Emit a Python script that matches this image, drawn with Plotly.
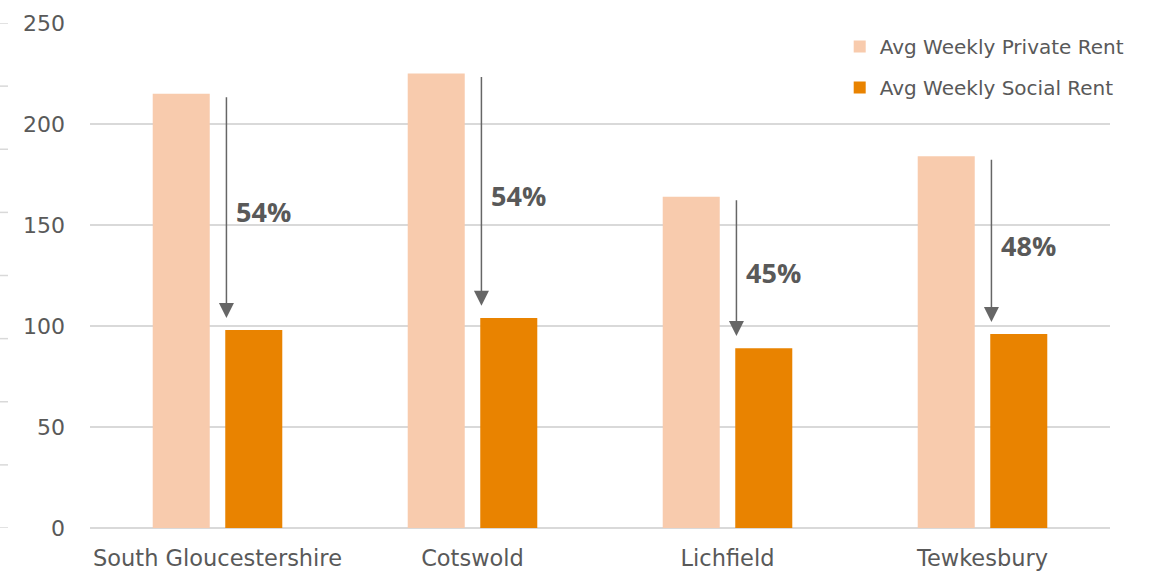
import plotly.graph_objects as go

categories = ["South Gloucestershire", "Cotswold", "Lichfield", "Tewkesbury"]
private_rent = [215, 225, 164, 184]
social_rent = [98, 104, 89, 96]
pct_labels = ["54%", "54%", "45%", "48%"]
y_ticks = [0, 50, 100, 150, 200, 250]
minor_marks = [0, 31.25, 62.5, 93.75, 125, 156.25, 187.5, 218.75, 250]

FONT = "DejaVu Sans"
GREY = "#595959"
xs = list(range(len(categories)))

fig = go.Figure()
fig.add_trace(go.Bar(x=xs, y=private_rent, name="Avg Weekly Private Rent",
                     marker=dict(color="#F8CBAD", line=dict(width=0)),
                     legendgroup="a"))
fig.add_trace(go.Bar(x=xs, y=social_rent, name="Avg Weekly Social Rent",
                     marker=dict(color="#E98300", line=dict(width=0)),
                     legendgroup="b"))

for i, (p, s, lab) in enumerate(zip(private_rent, social_rent, pct_labels)):
    fig.add_annotation(x=i + 0.035, y=s + 6, ax=i + 0.035, ay=p - 1,
                       xref="x", yref="y", axref="x", ayref="y",
                       text="", showarrow=True, arrowhead=2, arrowsize=2.0,
                       arrowwidth=1.5, arrowcolor="#666666", standoff=0)
    fig.add_annotation(x=i + 0.064, y=(p + s) / 2, xref="x", yref="y",
                       text="<b>" + lab + "</b>", showarrow=False,
                       xanchor="left", yanchor="middle",
                       font=dict(family="Open Sans", size=27, color=GREY))

for v in minor_marks:
    fig.add_shape(type="line", xref="paper", yref="y",
                  x0=-90 / 1020, x1=-82 / 1020, y0=v, y1=v,
                  line=dict(color="#D9D9D9", width=1.5))

fig.update_layout(
    width=1153, height=572,
    margin=dict(l=90, r=43, t=23, b=44),
    plot_bgcolor="white", paper_bgcolor="white",
    barmode="group", bargap=0.431, bargroupgap=0.214,
    font=dict(family=FONT, color=GREY),
    showlegend=True,
    legend=dict(x=0.735, y=0.992, xanchor="left", yanchor="top",
                font=dict(family=FONT, size=20, color=GREY),
                traceorder="grouped", tracegroupgap=12,
                bgcolor="rgba(0,0,0,0)"),
    xaxis=dict(range=[-0.5, 3.5], tickmode="array", tickvals=xs,
               ticktext=categories, showgrid=False, zeroline=False,
               showline=False, ticks="", ticklabelstandoff=14,
               automargin=False,
               tickfont=dict(size=22.5, color=GREY)),
    yaxis=dict(range=[0, 250], tickmode="array", tickvals=y_ticks,
               showgrid=True, gridcolor="#D9D9D9", gridwidth=1.5,
               zeroline=True, zerolinecolor="#D9D9D9", zerolinewidth=1.5,
               showline=False, ticks="", ticklabelstandoff=24,
               automargin=False,
               tickfont=dict(size=22, color=GREY)),
)

fig.write_html("out.html")
